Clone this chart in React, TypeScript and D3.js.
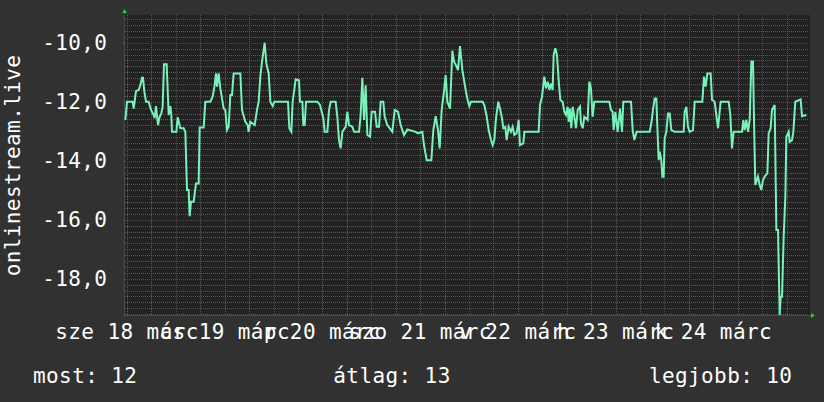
import React from "react";
import * as d3 from "d3";

// ---- data ----
const seriesName = "onlinestream.live";
const startTime = new Date(2020, 2, 18, 11, 30);
const endTime = new Date(2020, 2, 25, 11, 30);

// [hours since start, value]
const samples: [number, number][] = [
  [0.08, -12.62], [0.49, -12.0], [1.88, -12.0], [2.13, -12.23], [2.37, -12.0], [2.7, -11.64], [3.36, -11.6], [3.77, -11.44],
  [4.18, -11.19], [4.42, -11.19], [4.75, -11.66], [5.16, -12.0], [5.81, -12.0], [6.39, -12.28], [7.04, -12.45], [7.29, -12.56],
  [7.61, -12.15], [8.11, -12.79], [8.51, -12.51], [8.92, -12.4], [9.25, -12.17], [9.58, -10.73], [10.23, -10.73], [10.73, -12.45],
  [11.13, -12.15], [11.38, -12.45], [11.54, -13.02], [12.61, -13.02], [12.94, -12.53], [13.59, -12.9], [14.41, -12.9], [14.82, -13.02],
  [15.23, -14.99], [15.64, -14.99], [15.88, -15.88], [16.21, -15.39], [16.87, -15.39], [17.44, -14.77], [18.09, -14.77], [18.34, -12.87],
  [19.32, -12.87], [19.73, -12.0], [20.96, -12.0], [21.53, -11.83], [22.02, -11.44], [22.35, -11.04], [22.6, -11.49], [23.01, -11.04],
  [23.42, -11.55], [24.23, -12.23], [24.64, -12.28], [25.05, -12.96], [25.46, -12.85], [25.87, -11.77], [26.28, -11.77], [26.69, -11.04],
  [28.33, -11.04], [28.74, -12.28], [29.56, -12.68], [30.13, -12.79], [30.37, -13.02], [30.78, -12.68], [31.85, -12.79], [32.42, -12.28],
  [32.83, -12.0], [33.24, -11.15], [33.65, -10.64], [34.31, -10.0], [34.71, -10.7], [35.29, -11.04], [35.7, -12.0], [36.27, -12.15],
  [36.68, -12.0], [40.04, -12.0], [40.36, -12.9], [40.86, -13.02], [41.18, -12.0],
  [41.92, -11.24], [42.74, -11.27], [42.98, -12.0], [43.56, -12.0], [43.8, -12.79], [44.13, -12.79], [44.46, -12.0], [47.24, -12.0],
  [47.9, -12.11], [48.71, -12.56], [49.04, -13.02], [49.7, -13.02], [50.11, -12.28], [50.52, -12.0], [51.74, -12.0], [52.15, -12.51],
  [52.56, -13.3], [52.97, -13.58], [53.38, -13.02], [54.2, -12.85], [54.61, -12.34], [55.02, -12.79], [55.84, -12.85], [56.25, -13.02],
  [57.48, -13.02], [57.88, -12.45], [58.29, -11.19], [58.7, -12.62], [59.11, -11.44], [59.52, -13.13], [60.18, -13.19], [60.59, -12.34],
  [61.41, -12.34], [61.81, -12.85], [62.39, -12.85], [62.8, -12.0], [63.45, -12.0], [63.78, -12.51], [64.43, -12.79], [65.66, -13.02],
  [66.24, -12.28], [67.05, -12.34], [67.71, -12.79], [68.53, -13.13], [69.35, -12.94], [71.39, -13.02], [71.97, -13.07], [73.03, -13.02],
  [73.44, -13.47], [74.1, -13.98], [75.24, -13.98], [75.73, -12.96], [76.31, -12.49], [76.88, -12.96], [77.29, -13.58], [77.78, -12.28],
  [78.35, -11.66], [78.76, -11.1], [79.17, -12.0], [79.83, -12.23], [80.4, -10.27], [80.81, -10.64], [81.46, -10.81], [81.79, -10.93],
  [82.28, -10.11], [82.86, -10.93], [83.27, -11.27],
  [83.75, -11.66], [84.16, -11.94], [84.57, -12.15], [84.98, -12.0], [87.84, -12.0], [88.25, -12.11], [88.83, -12.49], [89.32, -12.96],
  [89.89, -13.3], [90.3, -13.47], [90.71, -13.3], [91.12, -12.56], [91.69, -12.0], [92.18, -12.28], [92.59, -12.56], [92.92, -12.9],
  [93.41, -12.85], [93.74, -13.3], [94.23, -12.85], [94.8, -13.02], [95.21, -12.85], [95.62, -13.13], [96.19, -13.07], [96.44, -12.85],
  [96.69, -12.62], [97.01, -13.47], [97.83, -13.41], [98.08, -13.02], [101.6, -13.02], [101.93, -12.11], [102.42, -11.83], [102.99, -11.15],
  [103.4, -11.55], [103.81, -11.32], [104.22, -11.6], [104.63, -11.38], [105.04, -11.6], [105.28, -10.42], [105.69, -10.19], [106.1, -10.42],
  [106.51, -11.27], [106.92, -11.94], [107.49, -12.0], [107.9, -12.34], [108.31, -12.45], [108.72, -12.17], [108.97, -12.68], [109.29, -12.23],
  [109.62, -12.9], [109.95, -12.17], [110.36, -12.51], [110.77, -12.9], [111.18, -12.28], [111.75, -12.17], [111.99, -12.73], [112.41, -12.9],
  [112.82, -12.51], [113.63, -12.62], [114.04, -11.32], [114.45, -11.55], [114.86, -12.51], [115.27, -12.0], [118.96, -12.0], [119.36, -12.28],
  [119.77, -12.34], [120.02, -12.96], [120.43, -12.34], [121.0, -13.02], [121.58, -12.23], [122.07, -13.02], [122.39, -12.0], [124.28, -12.0],
  [124.69, -12.96], [125.1, -13.3], [125.67, -13.02],
  [126.0, -13.02], [128.87, -13.02], [129.27, -12.73], [129.68, -12.28], [130.09, -11.89], [130.5, -11.89], [130.75, -12.85], [131.08, -13.98],
  [131.32, -13.69], [131.73, -13.98], [131.98, -14.54], [132.3, -14.54], [132.55, -13.24], [132.96, -13.02], [133.37, -12.4], [133.78, -12.4],
  [134.19, -12.96], [135.01, -13.02], [137.22, -13.02], [137.46, -12.34], [137.87, -12.17], [138.28, -12.85], [138.69, -13.02], [139.51, -12.96],
  [139.92, -12.0], [141.8, -12.0], [142.21, -11.15], [142.62, -11.49], [143.03, -11.04], [143.85, -11.04], [144.18, -11.94], [144.83, -12.0],
  [145.24, -12.45], [145.65, -12.9], [145.98, -12.45], [146.3, -12.0], [148.27, -12.0], [148.68, -12.45], [149.09, -13.58], [149.5, -13.02],
  [151.54, -13.02], [151.87, -12.62], [152.2, -12.96], [152.61, -12.62], [153.02, -13.02], [153.43, -12.62], [153.84, -10.64], [154.25, -10.64],
  [154.49, -12.62], [154.82, -14.82], [155.47, -14.54], [155.88, -14.82], [156.29, -14.99], [156.7, -14.66], [157.11, -14.54], [157.77, -14.43],
  [158.09, -13.07], [158.59, -12.9], [158.91, -12.28], [159.57, -12.11], [159.98, -16.35], [160.39, -16.35], [160.8, -19.23], [161.04, -18.61],
  [161.37, -18.61], [161.78, -16.58], [162.19, -15.22], [162.43, -13.19], [163.01, -13.02], [163.25, -13.36], [163.83, -13.3], [164.15, -13.02],
  [164.64, -12.0], [165.95, -11.92], [166.28, -12.49], [167.35, -12.45],
];

const yDomain: [number, number] = [-19.23, -9.06];
const yMajorTicks = [-18, -16, -14, -12, -10];
const dayLabels = ["sze 18 márc", "cs 19 márc", "p 20 márc", "szo 21 márc", "v 22 márc", "h 23 márc", "k 24 márc"];
const legendItems = ["most: 12", "átlag: 13", "legjobb: 10"];

// ---- styles ----
const W = 824;
const H = 402;
const left = 125;
const right = 809;
const top = 15;
const bottom = 315;
const FONT = "'DejaVu Sans Mono', monospace";
const FS = 21;
const LS = 0.4;
const bgOuter = "#313131";
const bgPlot = "#222222";
const minorGrid = "#5a5a5a";
const majorGrid = "#7c3434";
const lineColor = "#77f2b9";
const arrowColor = "#22cc22";
const textColor = "#ffffff";

const huLocale = d3.formatLocale({
  decimal: ",",
  thousands: " ",
  grouping: [3],
  currency: ["", " Ft"],
  minus: "-",
});
const fmt = huLocale.format(".1f");

export default function App() {
  const x = d3.scaleTime().domain([startTime, endTime]).range([left, right]);
  const y = d3.scaleLinear().domain(yDomain).range([bottom, top]);

  const toDate = (h: number) => new Date(startTime.getTime() + h * 3600e3);

  const minorY: number[] = [];
  for (let i = Math.ceil(yDomain[0] * 5); i <= Math.floor(yDomain[1] * 5); i++) {
    if (i % 10 !== 0) minorY.push(i / 5);
  }
  const sixHours = d3.timeHour.every(6)!.range(startTime, endTime).filter((d) => d.getHours() !== 0);
  const days = d3.timeDay.range(startTime, endTime);
  const labelDays = dayLabels.map((_, i) => d3.timeHour.offset(new Date(2020, 2, 18 + i), 12));

  const line = d3
    .line<[number, number]>()
    .x((d) => x(toDate(d[0])))
    .y((d) => y(d[1]));

  const px = (v: number) => Math.round(v) + 0.5;

  return (
    <svg
      width={W}
      height={H}
      style={{ position: "absolute", left: 0, top: 0, display: "block" }}
      fontFamily={FONT}
    >
      <rect x={0} y={0} width={W} height={H} fill={bgOuter} />
      <rect x={left - 1} y={top} width={right - left + 2} height={bottom - top} fill={bgPlot} />

      {/* minor grid */}
      {minorY.map((v) => (
        <line key={"my" + v} x1={left} x2={right} y1={px(y(v))} y2={px(y(v))} stroke={minorGrid} strokeDasharray="1,1" />
      ))}
      {sixHours.map((d) => (
        <line key={"mx" + +d} x1={px(x(d))} x2={px(x(d))} y1={top} y2={bottom + 2} stroke={minorGrid} strokeDasharray="1,1" />
      ))}
      {/* major grid */}
      {yMajorTicks.map((v) => (
        <line key={"My" + v} x1={left - 2} x2={right} y1={px(y(v))} y2={px(y(v))} stroke={majorGrid} strokeDasharray="1,1" />
      ))}
      {days.map((d) => (
        <line key={"Mx" + +d} x1={px(x(d))} x2={px(x(d))} y1={top} y2={bottom + 2} stroke={majorGrid} strokeDasharray="1,1" />
      ))}

      {/* axes */}
      <line x1={left - 0.5} x2={left - 0.5} y1={top - 3} y2={bottom + 2} stroke="#4a4a4a" />
      <line x1={left - 2} x2={right + 4} y1={bottom + 0.5} y2={bottom + 0.5} stroke="#4a4a4a" />
      <path d={`M${left - 3},${top - 2} L${left + 2},${top - 2} L${left - 0.5},${top - 6} Z`} fill={arrowColor} />
      <path d={`M${right + 2},${bottom - 2} L${right + 2},${bottom + 3} L${right + 6},${bottom + 0.5} Z`} fill={arrowColor} />

      {/* data line */}
      <path d={line(samples) || ""} fill="none" stroke={lineColor} strokeWidth={2} strokeLinejoin="miter" />

      {/* y tick labels */}
      {yMajorTicks.map((v) => (
        <text key={"yl" + v} x={107 + LS} y={y(v) + 7.5} textAnchor="end" fontSize={FS} letterSpacing={LS} fill={textColor}>
          {fmt(v)}
        </text>
      ))}

      {/* x labels */}
      {labelDays.map((d, i) => (
        <text key={"xl" + i} x={x(d)} y={338.5} textAnchor="middle" fontSize={FS} letterSpacing={LS} fill={textColor}>
          {dayLabels[i]}
        </text>
      ))}

      {/* y title */}
      <text transform={`translate(20,165.5) rotate(-90)`} textAnchor="middle" fontSize={FS} letterSpacing={LS} fill={textColor}>
        {seriesName}
      </text>

      {/* legend */}
      <text x={33} y={383} fontSize={FS} letterSpacing={LS} fill={textColor}>{legendItems[0]}</text>
      <text x={392} y={383} textAnchor="middle" fontSize={FS} letterSpacing={LS} fill={textColor}>{legendItems[1]}</text>
      <text x={792 + LS} y={383} textAnchor="end" fontSize={FS} letterSpacing={LS} fill={textColor}>{legendItems[2]}</text>
    </svg>
  );
}
